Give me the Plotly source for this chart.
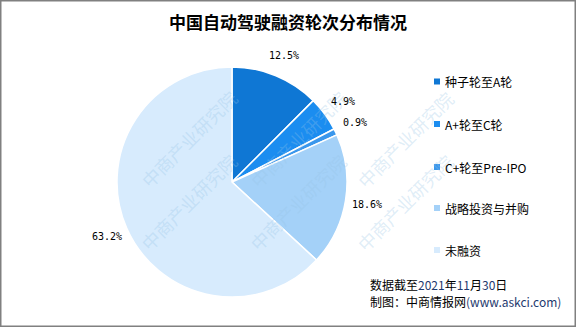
import math
import plotly.graph_objects as go

categories = ["种子轮至A轮", "A+轮至C轮", "C+轮至Pre-IPO", "战略投资与并购", "未融资"]
values = [12.5, 4.9, 0.9, 18.6, 63.2]
colors = ["#0F77D4", "#1B8DF0", "#3A97EC", "#A4D1F8", "#D7EBFD"]
title_text = "中国自动驾驶融资轮次分布情况"
footer_lines = ["数据截至<span style='color:#1F3A6E'>2021</span>年<span style='color:#1F3A6E'>11</span>月<span style='color:#1F3A6E'>30</span>日",
                "制图：中商情报网<span style='color:#1F3A6E'>(www.askci.com)</span>"]
watermark = "中商产业研究院"

W, H = 576, 327
def px(x):
    return x / W
def py(y):
    return 1 - y / H

# pie geometry (pixels)
cx, cy, R = 232, 182, 115
label_r = R + 22

fig = go.Figure()
fig.add_trace(go.Pie(
    labels=categories, values=values, sort=False, direction="clockwise", rotation=0,
    marker=dict(colors=colors, line=dict(color="white", width=1.5)),
    textinfo="none",
    domain=dict(x=[px(cx - R), px(cx + R)], y=[py(cy + R), py(cy - R)]),
    showlegend=False, hoverinfo="label+value",
))

annotations = []
shapes = []
# watermarks
for wx in [71, 237, 401]:
    for wy in [196, 316]:
        annotations.append(dict(x=px(wx + 61), y=py(wy - 57), xref="paper", yref="paper",
                                text=watermark, showarrow=False, textangle=-45,
                                font=dict(family="Noto Sans CJK SC", size=18, color="rgba(150,195,230,0.3)")))
# percentage labels around the pie, placed at each slice's mid angle
total = sum(values)
cum = 0.0
for v in values:
    mid = (cum + v / 2) / total * 2 * math.pi
    cum += v
    lx = cx + label_r * math.sin(mid)
    ly = cy - label_r * math.cos(mid)
    annotations.append(dict(x=px(lx), y=py(ly), xref="paper", yref="paper", text=f"{v:.1f}%",
                            showarrow=False, xanchor="center", yanchor="middle",
                            font=dict(family="DejaVu Sans Mono", size=10, color="black")))
# legend
leg_y = [81.5, 124, 167, 208, 250]
for cat, col, ly in zip(categories, colors, leg_y):
    shapes.append(dict(type="rect", xref="paper", yref="paper",
                       x0=px(434), x1=px(440), y0=py(ly + 3), y1=py(ly - 3),
                       fillcolor=col, line=dict(width=0)))
    annotations.append(dict(x=px(443), y=py(ly), xref="paper", yref="paper", text=cat,
                            showarrow=False, xanchor="left", yanchor="middle",
                            font=dict(family="Noto Sans CJK SC", size=12, color="black")))
# footer
for i, line in enumerate(footer_lines):
    annotations.append(dict(x=px(368), y=py(284 + 17 * i), xref="paper", yref="paper", text=line,
                            showarrow=False, xanchor="left", yanchor="middle",
                            font=dict(family="Noto Sans CJK SC", size=12, color="black")))
# title
annotations.append(dict(x=0.5, y=py(21), xref="paper", yref="paper", text="<b>" + title_text + "</b>",
                        showarrow=False, xanchor="center", yanchor="middle",
                        font=dict(family="Noto Sans CJK SC", size=17, color="black")))
# border
shapes.append(dict(type="rect", xref="paper", yref="paper", x0=0, x1=1, y0=0, y1=1,
                   line=dict(color="#808080", width=3), layer="above"))

fig.update_layout(width=W, height=H, margin=dict(l=0, r=0, t=0, b=0),
                  paper_bgcolor="white", plot_bgcolor="white",
                  annotations=annotations, shapes=shapes)
fig.write_html("out.html")
